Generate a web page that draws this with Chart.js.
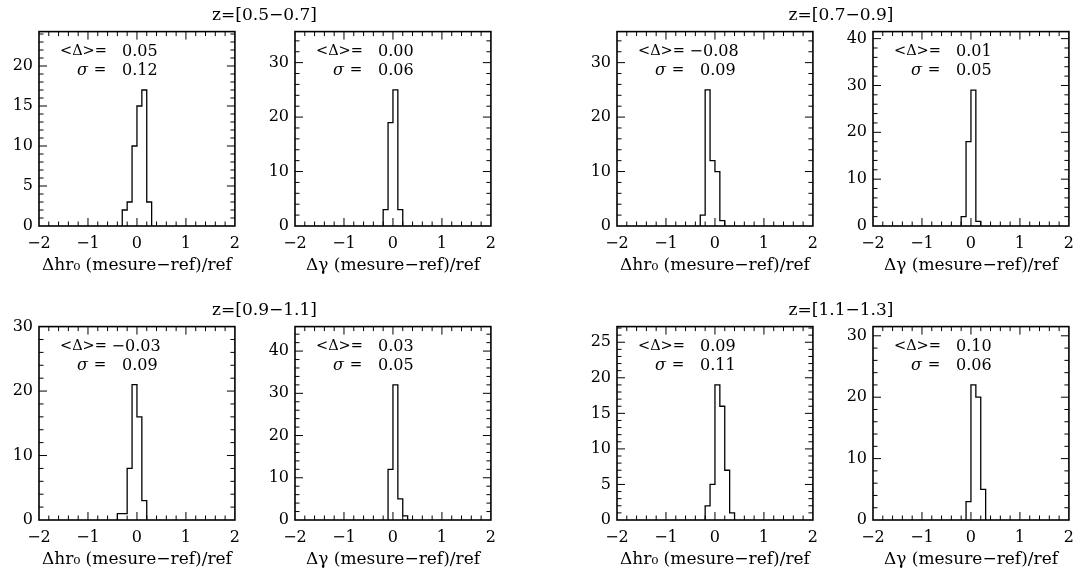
<!DOCTYPE html>
<html><head><meta charset="utf-8">
<script src="https://cdn.jsdelivr.net/npm/chart.js@4.4.1/dist/chart.umd.min.js"></script>
<style>
html,body{margin:0;padding:0;background:#fff;width:1079px;height:577px;overflow:hidden;position:relative;}
canvas{position:absolute;}
.ttl{position:absolute;font:17px "DejaVu Serif";color:#000;white-space:nowrap;transform:translate(-50%,-50%);z-index:2;}
</style></head><body>
<script>
// ---------------- data ----------------
const redshiftBins = ['z=[0.5\u22120.7]', 'z=[0.7\u22120.9]', 'z=[0.9\u22121.1]', 'z=[1.1\u22121.3]'];
const xAxisLabels = ['\u0394hr\u2080 (mesure\u2212ref)/ref', '\u0394\u03b3 (mesure\u2212ref)/ref'];
const xTickValues = [-2, -1, 0, 1, 2];
const binWidth = 0.1;

// histogram counts (bins of 0.1), first bin lower edge in binStarts
const countsHr_05_07  = [2, 3, 10, 15, 17, 3];
const countsGam_05_07 = [3, 19, 25, 3];
const countsHr_07_09  = [2, 25, 12, 10, 1];
const countsGam_07_09 = [2, 18, 29, 1];
const countsHr_09_11  = [1, 1, 8, 21, 16, 3];
const countsGam_09_11 = [12, 32, 5, 1];
const countsHr_11_13  = [2, 5, 19, 16, 7, 1];
const countsGam_11_13 = [3, 22, 20, 5];

const panelCounts = [countsHr_05_07, countsGam_05_07, countsHr_07_09, countsGam_07_09,
                     countsHr_09_11, countsGam_09_11, countsHr_11_13, countsGam_11_13];
const binStarts   = [-0.3, -0.2, -0.3, -0.2, -0.4, -0.1, -0.2, -0.1];
const meanDelta   = ['0.05', '0.00', '-0.08', '0.01', '-0.03', '0.03', '0.09', '0.10'];
const sigmaDelta  = ['0.12', '0.06', '0.09', '0.05', '0.09', '0.05', '0.11', '0.06'];
const yMaxValues  = [24.3, 35.7, 35.7, 41.5, 30, 45.8, 27.2, 31.5];
const yMajorStep  = [5, 10, 10, 10, 10, 10, 5, 10];
const yMinorStep  = [1, 2, 2, 2, 2, 2, 1, 2];

// ---------------- layout ----------------
const frameLefts = [39, 295, 617, 873];
const frameTops = [28, 323];
const frameW = 201;
const frameHs = [198, 197];
const L = 38, T = 12, R = 8, B = 58;

Chart.defaults.font.family = '"DejaVu Serif"';
Chart.defaults.font.size = 16;
Chart.defaults.color = '#000';

const fmtTick = v => (v < 0 ? '\u2212' + Math.abs(v) : String(v));
const fmtVal = s => s.replace('-', '\u2212');

const framePlugin = {
  id: 'frame',
  afterDraw(chart, args, p) {
    const {ctx, chartArea: a, scales: {x, y}} = chart;
    ctx.save();
    ctx.strokeStyle = '#000';
    ctx.lineWidth = 1;
    ctx.beginPath();
    for (let k = 1; k < 20; k++) {
      const v = -2 + k * 0.2;
      const len = k % 5 === 0 ? 8 : 4.5;
      const px = x.getPixelForValue(v);
      ctx.moveTo(px, a.bottom); ctx.lineTo(px, a.bottom - len);
      ctx.moveTo(px, a.top); ctx.lineTo(px, a.top + len);
    }
    const n = Math.floor(p.yMax / p.minor + 1e-9);
    for (let k = 1; k <= n; k++) {
      const v = k * p.minor;
      if (v >= p.yMax - 1e-6) continue;
      const r = v / p.major;
      const major = Math.abs(r - Math.round(r)) < 1e-9;
      const len = major ? 8 : 4.5;
      const py = y.getPixelForValue(v);
      ctx.moveTo(a.left, py); ctx.lineTo(a.left + len, py);
      ctx.moveTo(a.right, py); ctx.lineTo(a.right - len, py);
    }
    ctx.stroke();
    ctx.lineWidth = 1.6;
    ctx.strokeRect(a.left, a.top, a.right - a.left, a.bottom - a.top);

    ctx.fillStyle = '#000';
    ctx.textBaseline = 'middle';
    ctx.font = '14.5px "DejaVu Serif"';
    ctx.textAlign = 'left';
    ctx.fillText('<\u0394>=', a.left + 21, a.top + 20);
    ctx.font = '16px "DejaVu Serif"';
    const numRight = a.left + 83 + ctx.measureText('0.00').width;
    ctx.textAlign = 'right';
    const neg = p.mean.startsWith('-');
    ctx.fillText(fmtVal(p.mean), numRight + (neg ? 3 : 0), a.top + 20);
    ctx.fillText(p.sigma, numRight, a.top + 39);
    ctx.textAlign = 'left';
    ctx.font = 'italic 16px "DejaVu Serif"';
    ctx.fillText('\u03c3', a.left + 38, a.top + 39);
    const sw = ctx.measureText('\u03c3').width;
    ctx.font = '15px "DejaVu Serif"';
    ctx.fillText(' =', a.left + 39 + sw, a.top + 39);

    ctx.font = '17px "DejaVu Serif"';
    ctx.textAlign = 'center';
    ctx.fillText(p.xlabel, (a.left + a.right) / 2, a.bottom + 40);
    ctx.restore();
  }
};

for (let i = 0; i < 8; i++) {
  const row = Math.floor(i / 4), col = i % 4;
  const H = frameHs[row];
  const cv = document.createElement('canvas');
  cv.width = L + frameW + R;
  cv.height = T + H + B;
  cv.style.left = (frameLefts[col] - L) + 'px';
  cv.style.top = (frameTops[row] - T) + 'px';
  cv.style.width = cv.width + 'px';
  cv.style.height = cv.height + 'px';
  document.body.appendChild(cv);

  const counts = panelCounts[i];
  const start = binStarts[i];
  const pts = [{x: start, y: 0}];
  counts.forEach((c, k) => pts.push({x: +(start + k * binWidth).toFixed(3), y: c}));
  pts.push({x: +(start + counts.length * binWidth).toFixed(3), y: 0});

  const yMax = yMaxValues[i];
  new Chart(cv, {
    type: 'line',
    data: {datasets: [{data: pts, stepped: 'before', borderColor: '#000', borderWidth: 1.3,
                       pointRadius: 0, fill: false}]},
    options: {
      responsive: false, animation: false, devicePixelRatio: 1,
      layout: {padding: {left: 0, top: T, right: R, bottom: 0}},
      plugins: {
        legend: {display: false}, tooltip: {enabled: false},
        frame: {yMax: yMax, major: yMajorStep[i], minor: yMinorStep[i],
                mean: meanDelta[i], sigma: sigmaDelta[i], xlabel: xAxisLabels[col % 2]}
      },
      scales: {
        x: {
          type: 'linear', min: -2, max: 2,
          afterBuildTicks: s => { s.ticks = xTickValues.map(v => ({value: v})); },
          ticks: {padding: 8, maxRotation: 0, autoSkip: false, callback: v => fmtTick(v)},
          grid: {display: false, drawTicks: false}, border: {display: false},
          afterFit: s => { s.height = B; }
        },
        y: {
          type: 'linear', min: 0, max: yMax,
          afterBuildTicks: s => {
            const t = [];
            for (let v = 0; v <= yMax + 1e-9; v += yMajorStep[i]) t.push({value: v});
            s.ticks = t;
          },
          ticks: {padding: 6, callback: v => fmtTick(v)},
          grid: {display: false, drawTicks: false}, border: {display: false},
          afterFit: s => { s.width = L; }
        }
      }
    },
    plugins: [framePlugin]
  });
}

const titleX = [264.5, 841];
const titleY = [14, 309];
for (let r = 0; r < 2; r++) {
  for (let c = 0; c < 2; c++) {
    const d = document.createElement('div');
    d.className = 'ttl';
    d.textContent = redshiftBins[r * 2 + c];
    d.style.left = titleX[c] + 'px';
    d.style.top = titleY[r] + 'px';
    document.body.appendChild(d);
  }
}
</script>
</body></html>
